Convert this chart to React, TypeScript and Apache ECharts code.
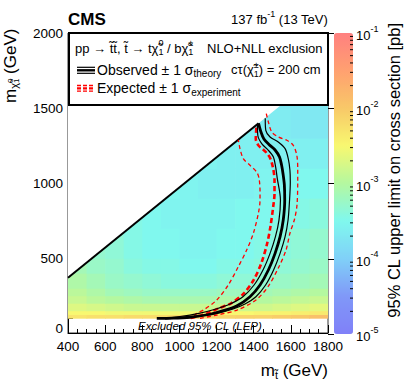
import React, { useEffect, useRef } from 'react';
import * as echarts from 'echarts';

const FONT = '"Liberation Sans", Arial, Helvetica, sans-serif';

// ---- heat map: 95% CL upper limit, log10(sigma / pb) ----
const stopEdges = [400, 500, 600, 700, 800, 900, 1000, 1100, 1200, 1300, 1400, 1500, 1600, 1700, 1800];
const lspEdges = [100, 125, 150, 200, 250, 300, 400, 500, 700, 900, 1100, 1300, 1500, 2000];
const N = null;
const limRow100 = [-2.3, -2.25, -2.25, -2.2, -2.2, -2.2, -2.15, -2.15, -2.15, -2.1, -2.1, -2.05, -2.0, -1.9];
const limRow125 = [-2.5, -2.5, -2.55, -2.55, -2.55, -2.55, -2.55, -2.5, -2.5, -2.5, -2.45, -2.45, -2.4, -2.35];
const limRow150 = [-2.7, -2.75, -2.8, -2.85, -2.85, -2.85, -2.85, -2.85, -2.85, -2.8, -2.8, -2.75, -2.7, -2.65];
const limRow200 = [-2.85, -2.95, -3.0, -3.05, -3.1, -3.1, -3.1, -3.1, -3.05, -3.05, -3.0, -2.95, -2.9, -2.85];
const limRow250 = [-2.95, -3.05, -3.15, -3.2, -3.25, -3.25, -3.25, -3.25, -3.2, -3.2, -3.15, -3.1, -3.05, -3.0];
const limRow300 = [-3.05, -3.15, -3.25, -3.3, -3.35, -3.4, -3.4, -3.4, -3.35, -3.35, -3.3, -3.25, -3.2, -3.15];
const limRow400 = [-3.15, -3.25, -3.3, -3.4, -3.45, -3.45, -3.5, -3.5, -3.45, -3.45, -3.4, -3.35, -3.3, -3.25];
const limRow500 = [N, -3.3, -3.35, -3.45, -3.5, -3.5, -3.55, -3.55, -3.5, -3.5, -3.45, -3.4, -3.35, -3.3];
const limRow700 = [N, N, N, -3.45, -3.5, -3.55, -3.55, -3.55, -3.55, -3.5, -3.5, -3.45, -3.45, -3.4];
const limRow900 = [N, N, N, N, N, -3.5, -3.55, -3.6, -3.6, -3.6, -3.55, -3.55, -3.5, -3.5];
const limRow1100 = [N, N, N, N, N, N, N, -3.55, -3.6, -3.6, -3.6, -3.6, -3.6, -3.6];
const limRow1300 = [N, N, N, N, N, N, N, N, N, -3.6, -3.65, -3.65, -3.7, -3.7];
const limRow1500 = [N, N, N, N, N, N, N, N, N, N, N, -3.7, -3.7, -3.7];
const limitRows = [limRow100, limRow125, limRow150, limRow200, limRow250, limRow300, limRow400,
  limRow500, limRow700, limRow900, limRow1100, limRow1300, limRow1500];

// kinematic boundary (upper edge of the scanned region) and drawn diagonal
const kinematicEdge = [[400, 368], [1800, 1774]];
const diagonal = [[400, 368], [1426, 1398]];

// ---- exclusion contours (m_stop, m_LSP) ----
const observed = [[878, 97], [931, 98], [1057, 105], [1165, 125], [1236, 149], [1308, 180], [1380, 242], [1434, 320],
  [1479, 420], [1515, 531], [1542, 642], [1559, 753], [1567, 887], [1565, 987], [1558, 1060], [1550, 1120],
  [1539, 1173], [1515, 1220], [1482, 1257], [1455, 1293], [1439, 1340], [1426, 1397]];
const observedMinus = [[895, 97], [1003, 110], [1111, 133], [1197, 160], [1272, 193], [1342, 242], [1402, 320],
  [1450, 420], [1488, 531], [1517, 642], [1536, 753], [1544, 887], [1527, 1029], [1518, 1107], [1506, 1173],
  [1479, 1218], [1443, 1262], [1422, 1318], [1420, 1392]];
const observedPlus = [[922, 94], [1003, 100], [1111, 113], [1208, 133], [1289, 160], [1353, 193], [1412, 242],
  [1464, 320], [1507, 420], [1542, 531], [1569, 642], [1585, 753], [1593, 887], [1597, 1007], [1595, 1085],
  [1586, 1162], [1569, 1229], [1532, 1273], [1488, 1307], [1465, 1351], [1462, 1432]];
const expected = [[1060, 100], [1084, 107], [1149, 131], [1213, 165], [1278, 198], [1345, 262], [1398, 350],
  [1440, 462], [1472, 595], [1490, 709], [1505, 842], [1512, 930], [1512, 1018], [1505, 1095], [1490, 1162],
  [1470, 1200], [1448, 1226], [1425, 1251], [1411, 1295], [1416, 1388]];
const expectedPlus = [[1111, 98], [1202, 120], [1310, 153], [1412, 220], [1477, 309], [1536, 442], [1574, 553],
  [1595, 665], [1620, 760], [1633, 853], [1637, 1018], [1637, 1095], [1632, 1185], [1613, 1251], [1578, 1285],
  [1532, 1307], [1497, 1340], [1479, 1407], [1466, 1472]];
const expectedMinus = [[1080, 112], [1093, 131], [1129, 153], [1201, 220], [1263, 320], [1317, 442], [1362, 553],
  [1398, 665], [1425, 798], [1434, 887], [1434, 940], [1429, 1029], [1416, 1073], [1380, 1118], [1344, 1162],
  [1326, 1229], [1321, 1262], [1317, 1287]];

// colour bar
const colorbarDecades = [-5, -4, -3, -2, -1];
const minorMultipliers = [2, 3, 4, 5, 6, 7, 8, 9];
const palette = ['#8080f8', '#8098f8', '#80d0f8', '#80f8ee', '#b4f8a0', '#f8f870', '#f8c868', '#ffa070', '#ff8080'];

// ---- text helpers ----
let measureCtx: CanvasRenderingContext2D | null = null;
function textWidth(t: string, size: number, bold: boolean, italic: boolean) {
  if (!measureCtx) measureCtx = document.createElement('canvas').getContext('2d');
  measureCtx!.font = `${italic ? 'italic' : 'normal'} ${bold ? 'bold' : 'normal'} ${size}px ${FONT}`;
  return measureCtx!.measureText(t).width;
}
type Run = { t: string; s: number; dy?: number; b?: boolean; i?: boolean; stack?: boolean; c?: string };
function buildRuns(runs: Run[], x0: number, y0: number, anchor: 'left' | 'right' | 'center' = 'left') {
  const pos: number[] = [];
  let cursor = 0, prevStart = 0, prevW = 0;
  runs.forEach((r) => {
    const w = textWidth(r.t, r.s, !!r.b, !!r.i);
    if (r.stack) {
      pos.push(prevStart);
      prevW = Math.max(prevW, w);
      cursor = prevStart + prevW;
    } else {
      pos.push(cursor);
      prevStart = cursor;
      prevW = w;
      cursor += w;
    }
  });
  const off = anchor === 'right' ? x0 - cursor : anchor === 'center' ? x0 - cursor / 2 : x0;
  return runs.map((r, k) => ({
    type: 'text',
    x: off + pos[k],
    y: y0 + (r.dy || 0),
    z: 100,
    silent: true,
    style: {
      text: r.t, fill: r.c || '#000', fontSize: r.s, fontFamily: FONT,
      fontWeight: r.b ? 'bold' : 'normal', fontStyle: r.i ? 'italic' : 'normal',
      textAlign: 'left', textVerticalAlign: 'middle', align: 'left', verticalAlign: 'middle',
    },
  }));
}

export default function App() {
  const ref = useRef<HTMLDivElement>(null);
  useEffect(() => {
    if (!ref.current) return;
    const chart = echarts.init(ref.current, undefined, { renderer: 'svg' });

    const cells: number[][] = [];
    limitRows.forEach((row, r) => {
      row.forEach((v, c) => {
        if (v === null) return;
        cells.push([stopEdges[c], stopEdges[c + 1], lspEdges[r], lspEdges[r + 1], v as number]);
      });
    });
    const minorTicks: number[][] = [];
    colorbarDecades.slice(0, -1).forEach((d) => minorMultipliers.forEach((m) => minorTicks.push([1, d + Math.log10(m)])));

    const lineSeries = (data: number[][], color: string, width: number, dash: any, z: number) => ({
      type: 'line', data, smooth: 0.3, showSymbol: false, symbol: 'none', silent: true, z, clip: true,
      lineStyle: { color, width, type: dash, cap: 'butt' },
      xAxisIndex: 0, yAxisIndex: 0,
    });

    const graphics: any[] = [
      // legend box
      { type: 'rect', z: 90, silent: true, shape: { x: 69, y: 33, width: 259, height: 72 }, style: { fill: '#fff', stroke: '#000', lineWidth: 2 } },
      // legend symbols
      { type: 'line', z: 100, shape: { x1: 77, y1: 67.3, x2: 95, y2: 67.3 }, style: { stroke: '#000', lineWidth: 1.2 } },
      { type: 'line', z: 100, shape: { x1: 77, y1: 70.3, x2: 95, y2: 70.3 }, style: { stroke: '#000', lineWidth: 2.4 } },
      { type: 'line', z: 100, shape: { x1: 77, y1: 73.3, x2: 95, y2: 73.3 }, style: { stroke: '#000', lineWidth: 1.2 } },
      { type: 'line', z: 100, shape: { x1: 77, y1: 85.5, x2: 95, y2: 85.5 }, style: { stroke: '#ff0000', lineWidth: 1.3, lineDash: [4, 2] } },
      { type: 'line', z: 100, shape: { x1: 77, y1: 88.3, x2: 95, y2: 88.3 }, style: { stroke: '#ff0000', lineWidth: 2.2, lineDash: [4, 2] } },
      { type: 'line', z: 100, shape: { x1: 77, y1: 91.1, x2: 95, y2: 91.1 }, style: { stroke: '#ff0000', lineWidth: 1.3, lineDash: [4, 2] } },
      ...buildRuns([
        { t: 'pp → t̃t̃, t̃ → tχ̃', s: 13 }, { t: '0', s: 9, dy: -5 }, { t: '1', s: 9, dy: 4, stack: true },
        { t: ' / bχ̃', s: 13 }, { t: '±', s: 9, dy: -5 }, { t: '1', s: 9, dy: 4, stack: true },
      ], 75, 48),
      ...buildRuns([{ t: 'NLO+NLL exclusion', s: 13 }], 207, 48),
      ...buildRuns([{ t: 'Observed ± 1 σ', s: 14 }, { t: 'theory', s: 10, dy: 4 }], 97, 69.5),
      ...buildRuns([
        { t: 'cτ(χ̃', s: 13 }, { t: '±', s: 9, dy: -5 }, { t: '1', s: 9, dy: 4, stack: true }, { t: ') = 200 cm', s: 13 },
      ], 231, 69.5),
      ...buildRuns([{ t: 'Expected ± 1 σ', s: 14 }, { t: 'experiment', s: 10, dy: 4 }], 97, 88),
      // header
      ...buildRuns([{ t: 'CMS', s: 17, b: true }], 68, 19),
      ...buildRuns([{ t: '137 fb', s: 13 }, { t: '-1', s: 9, dy: -5 }, { t: ' (13 TeV)', s: 13 }], 328, 19, 'right'),
      // LEP band label
      ...buildRuns([{ t: 'Excluded 95% CL (LEP)', s: 11.5, i: true }], 200, 326, 'center'),
      // x title
      ...buildRuns([{ t: 'm', s: 17 }, { t: 't̃', s: 11, dy: 5 }, { t: ' (GeV)', s: 17 }], 328, 370, 'right'),
      // y title (rotated)
      {
        type: 'group', x: 10, y: 103, rotation: Math.PI / 2, z: 100,
        children: buildRuns([
          { t: 'm', s: 17 }, { t: 'χ̃', s: 11, dy: 4 }, { t: '0', s: 8, dy: 0 }, { t: '1', s: 8, dy: 6, stack: true },
          { t: ' (GeV)', s: 17 },
        ], 0, 0),
      },
      // colour bar title (rotated)
      {
        type: 'group', x: 394, y: 170, rotation: Math.PI / 2, z: 100,
        children: buildRuns([{ t: '95% CL upper limit on cross section [pb]', s: 16.5 }], 0, 0, 'center'),
      },
    ];

    const axisText = { color: '#000', fontFamily: FONT, fontSize: 13.5 };
    const option: any = {
      animation: false,
      grid: [
        { left: 68, top: 33, width: 260, height: 300, show: true, borderColor: '#333', borderWidth: 1, backgroundColor: 'transparent' },
        { left: 334, top: 33, width: 19, height: 301, show: false },
      ],
      xAxis: [
        {
          type: 'value', gridIndex: 0, min: 400, max: 1800, interval: 200,
          axisLine: { show: true, onZero: false, lineStyle: { color: '#000', width: 1 } },
          axisTick: { show: true, inside: true, length: 8, lineStyle: { color: '#000' } },
          minorTick: { show: true, splitNumber: 4, length: 4, lineStyle: { color: '#000' } },
          axisLabel: { ...axisText, margin: 6, formatter: (v: number) => String(v) },
          splitLine: { show: false },
        },
        { type: 'value', gridIndex: 1, min: 0, max: 1, show: false },
      ],
      yAxis: [
        {
          type: 'value', gridIndex: 0, min: 0, max: 2000, interval: 500,
          axisLine: { show: true, onZero: false, lineStyle: { color: '#000', width: 1 } },
          axisTick: { show: true, inside: true, length: 9, lineStyle: { color: '#000' } },
          minorTick: { show: true, splitNumber: 5, length: 5, lineStyle: { color: '#000' } },
          axisLabel: {
            ...axisText, margin: 5,
            formatter: (v: number) => (v === 0 ? '{z|0}' : String(v)),
            rich: { z: { fontSize: 13.5, fontFamily: FONT, color: '#000', padding: [0, 0, 9, 0] } },
          },
          splitLine: { show: false },
        },
        {
          type: 'value', gridIndex: 1, min: -5, max: -1, interval: 1, position: 'right',
          axisLine: { show: false },
          axisTick: { show: true, inside: true, length: 6, lineStyle: { color: '#000' } },
          axisLabel: {
            margin: 3, color: '#000',
            formatter: (v: number) => `{b|10}{s|${v}}`,
            rich: {
              b: { fontSize: 13, fontFamily: FONT, color: '#000', lineHeight: 18, verticalAlign: 'bottom' },
              s: { fontSize: 9, fontFamily: FONT, color: '#000', lineHeight: 18, verticalAlign: 'top' },
            },
          },
          splitLine: { show: false },
        },
      ],
      visualMap: {
        type: 'continuous', min: -5, max: -1, dimension: 4, seriesIndex: 0,
        left: 334, top: 33, itemWidth: 19, itemHeight: 301, padding: 0,
        calculable: false, hoverLink: false, realtime: false,
        inRange: { color: palette },
        textStyle: { color: 'transparent' },
      },
      series: [
        {
          type: 'custom', xAxisIndex: 0, yAxisIndex: 0, silent: true, z: 1, clip: true,
          encode: { x: [0, 1], y: [2, 3] },
          data: cells,
          renderItem: (_p: any, api: any) => {
            const a = api.coord([api.value(0), api.value(3)]);
            const b = api.coord([api.value(1), api.value(2)]);
            return {
              type: 'rect',
              shape: { x: a[0], y: a[1], width: b[0] - a[0] + 0.7, height: b[1] - a[1] + 0.7 },
              style: { fill: api.visual('color'), stroke: null },
            };
          },
        },
        {
          type: 'custom', xAxisIndex: 0, yAxisIndex: 0, silent: true, z: 2, clip: true,
          data: [[400, 2000]],
          renderItem: (_p: any, api: any) => {
            const pts = [
              api.coord(kinematicEdge[0]), api.coord(kinematicEdge[1]),
              api.coord([1800, 2000]), api.coord([400, 2000]),
            ];
            return { type: 'polygon', shape: { points: pts }, style: { fill: '#fff', stroke: null } };
          },
        },
        { ...lineSeries(diagonal, '#000', 2, 'solid', 5), smooth: false },
        lineSeries(expectedMinus, '#ff0000', 1.3, [4, 3], 6),
        lineSeries(expectedPlus, '#ff0000', 1.3, [4, 3], 6),
        lineSeries(expected, '#ff0000', 2.6, [5, 3], 6),
        lineSeries(observedMinus, '#000', 1.2, 'solid', 7),
        lineSeries(observedPlus, '#000', 1.2, 'solid', 7),
        lineSeries(observed, '#000', 2.8, 'solid', 8),
        {
          type: 'custom', xAxisIndex: 1, yAxisIndex: 1, silent: true, z: 10,
          data: minorTicks,
          renderItem: (_p: any, api: any) => {
            const p = api.coord([api.value(0), api.value(1)]);
            return { type: 'line', shape: { x1: p[0] - 3, y1: p[1], x2: p[0], y2: p[1] }, style: { stroke: '#000', lineWidth: 1 } };
          },
        },
      ],
      graphic: graphics,
    };
    chart.setOption(option);
    return () => chart.dispose();
  }, []);
  return <div ref={ref} style={{ position: 'fixed', left: 0, top: 0, width: 407, height: 391, background: '#fff' }} />;
}
